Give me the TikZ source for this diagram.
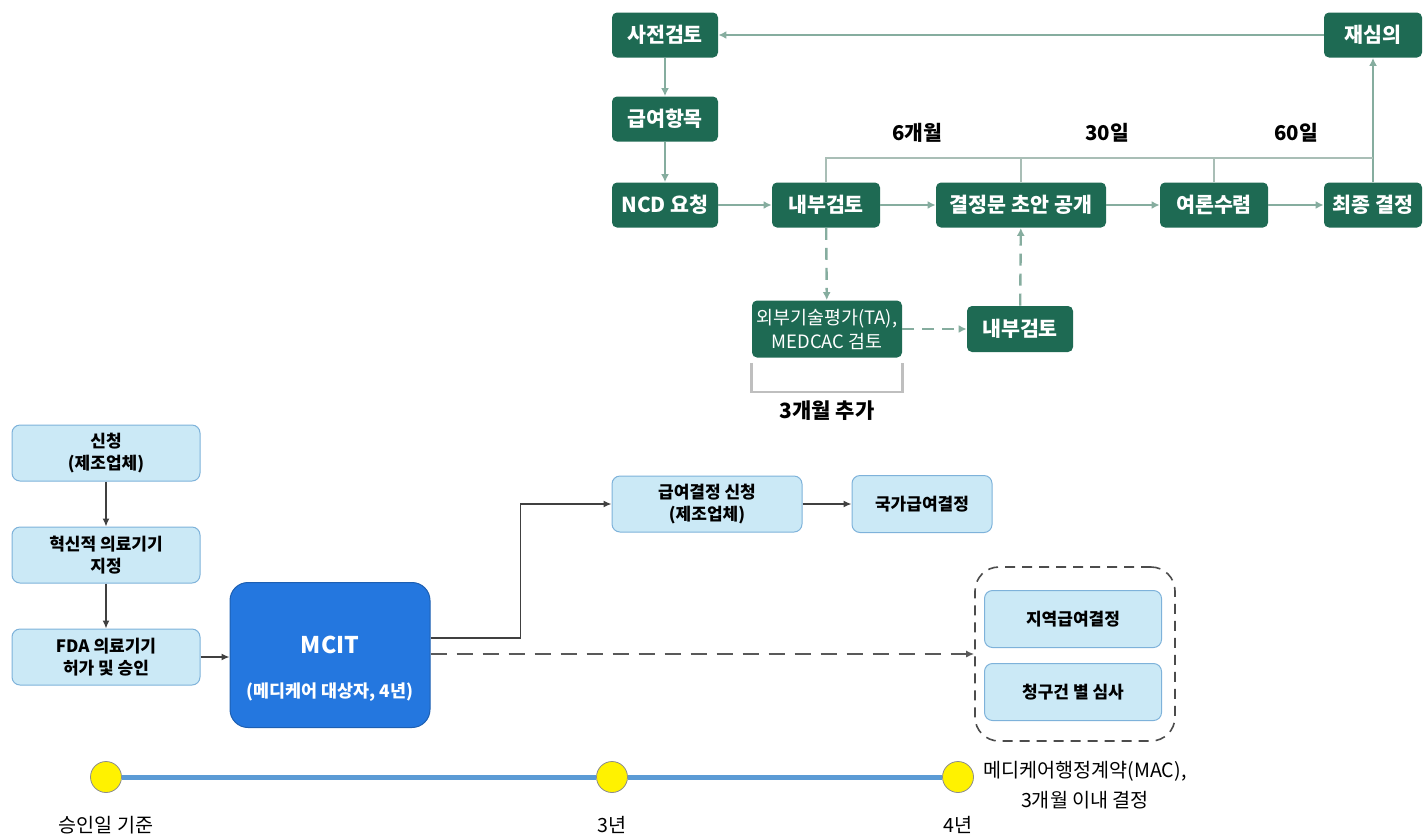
\documentclass[tikz,border=0pt]{standalone}
\usepackage{fontspec}
\setmainfont{Noto Sans CJK KR}
\usetikzlibrary{arrows.meta,calc}
\definecolor{ncdgreen}{HTML}{1E6A53}
\definecolor{ncdarrow}{HTML}{86AD9F}
\definecolor{ncdline}{HTML}{A9BEB6}
\definecolor{lightfill}{HTML}{CBE9F6}
\definecolor{lightdraw}{HTML}{7EB2DA}
\definecolor{mcitblue}{HTML}{2477DF}
\definecolor{timeblue}{HTML}{5B9BD5}
\tikzset{
	gbox/.style={fill=ncdgreen, rounded corners=2.5pt, text=white, inner sep=0pt, align=center,
		font=\bfseries\fontsize{10.3}{12}\selectfont, minimum height=22.5pt},
	lbox/.style={fill=lightfill, draw=lightdraw, line width=0.5pt, rounded corners=4pt, inner sep=0pt,
		align=center, font=\bfseries\fontsize{8.5}{11}\selectfont, minimum width=94pt, minimum height=28pt},
	flow/.style={draw=ncdarrow, line width=1.2pt, -{Latex[length=4pt,width=4pt]}},
	blk/.style={draw=black!75, line width=0.7pt, -{Latex[length=4pt,width=3.5pt]}},
	dot/.style={circle, fill=yellow, draw=black!45, line width=0.4pt, minimum size=15.5pt, inner sep=0pt},
	lbl/.style={font=\fontsize{9.8}{15}\selectfont, align=center},
	span/.style={font=\bfseries\fontsize{10.2}{12}\selectfont}
}
\begin{document}
\begin{tikzpicture}[x=0.5pt, y=-0.5pt]
			%%%%% START %%%%%
			\useasboundingbox (0,0) rectangle (1428,836);
			
			% NCD process
			\node[gbox, minimum width=53pt] (pre) at (665,35) {사전검토};
			\node[gbox, minimum width=49pt] (recon) at (1373,35) {재심의};
			\node[gbox, minimum width=53pt] (item) at (665,119) {급여항목};
			\node[gbox, minimum width=53pt] (ncd) at (665,205) {NCD 요청};
			\node[gbox, minimum width=54pt] (rev1) at (826,205) {내부검토};
			\node[gbox, minimum width=85pt] (draft) at (1021,205) {결정문 초안 공개};
			\node[gbox, minimum width=54pt] (opin) at (1214,205) {여론수렴};
			\node[gbox, minimum width=49pt] (final) at (1373,205) {최종 결정};
			\node[gbox, minimum width=75pt, minimum height=28.5pt, font=\fontsize{9.2}{12}\selectfont] (ta) at (827,329) {외부기술평가(TA),\\MEDCAC 검토};
			\node[gbox, minimum width=53pt, minimum height=23pt] (rev2) at (1020,329) {내부검토};
			
			\draw[flow] (recon) -- (pre);
			\draw[flow] (pre) -- (item);
			\draw[flow] (item) -- (ncd);
			\draw[flow] (ncd) -- (rev1);
			\draw[flow] (rev1) -- (draft);
			\draw[flow] (draft) -- (opin);
			\draw[flow] (opin) -- (final);
			\draw[flow] (final) -- (recon);
			\draw[flow, dash pattern=on 6pt off 4pt] (rev1) -- (ta);
			\draw[flow, dash pattern=on 6pt off 4pt] (ta) -- (rev2);
			\draw[flow, dash pattern=on 6pt off 4pt] (rev2) -- (draft);
			
			% period line
			\coordinate (top) at (0,158);
			\draw[draw=ncdline, line width=1.2pt] (rev1.north) -- (rev1.north |- top) -- (final.north |- top);
			\draw[draw=ncdline, line width=1.2pt] (draft.north) -- (draft.north |- top);
			\draw[draw=ncdline, line width=1.2pt] (opin.north) -- (opin.north |- top);
			\node[span] (sixm) at (917,133) {6개월};
			\node[span] (thirty) at (1107,133) {30일};
			\node[span] (sixty) at (1296,133) {60일};
			
			\draw[draw=black!25, line width=1.2pt] ($(ta.south west)+(0,5)$) -- ++(0,29) -| ($(ta.south east)+(0,5)$);
			\node[span, font=\bfseries\fontsize{10.5}{12}\selectfont] (extra) at (827,411) {3개월 추가};
			
			% MCIT path
			\node[lbox] (app) at (106,453) {신청\\(제조업체)};
			\node[lbox] (desig) at (106,555) {혁신적 의료기기\\지정};
			\node[lbox] (fda) at (106,657) {FDA 의료기기\\허가 및 승인};
			\node[fill=mcitblue, draw=mcitblue!80!black, line width=0.5pt, rounded corners=9pt, minimum width=100pt, minimum height=72.5pt] (mcit) at (330,655) {};
			\node[text=white, font=\bfseries\fontsize{11.5}{13}\selectfont] (mcitname) at (330,645) {MCIT};
			\node[text=white, font=\bfseries\fontsize{8.7}{10}\selectfont] (mcitsub) at (330,692) {(메디케어 대상자, 4년)};
			\node[lbox, minimum width=95pt] (req) at (707,504) {급여결정 신청\\(제조업체)};
			\node[lbox, minimum width=70pt, minimum height=28.5pt] (natdec) at (922,504) {국가급여결정};
			\node[draw=black!70, line width=0.8pt, dash pattern=on 5pt off 3.5pt, rounded corners=12pt, minimum width=100pt, minimum height=87pt] (grp) at (1075,654) {};
			\node[lbox, minimum width=88.5pt, minimum height=28.5pt] (local) at (1073,619) {지역급여결정};
			\node[lbox, minimum width=88.5pt, minimum height=28.5pt] (claim) at (1073,692) {청구건 별 심사};
			
			\draw[blk] (app) -- (desig);
			\draw[blk] (desig) -- (fda);
			\draw[blk] (fda.east) -- (mcit.west |- fda.east);
			\coordinate (exit) at (0,638);
			\draw[blk] (mcit.east |- exit) -- ++(90,0) |- (req.west);
			\draw[blk] (req) -- (natdec);
			\draw[blk, draw=black!65, line width=1pt, dash pattern=on 8pt off 5pt] (mcit.east |- grp.west) -- (grp.west);
			
			% timeline
			\node[dot] (t0) at (106,777) {};
			\node[dot] (t3) at (612,777) {};
			\node[dot] (t4) at (958,777) {};
			\draw[draw=timeblue, line width=2.5pt] (t0) -- (t3) -- (t4);
			\node[lbl] (l0) at (106,825) {승인일 기준};
			\node[lbl] (l3) at (612,825) {3년};
			\node[lbl] (l4) at (958,825) {4년};
			\node[lbl] (mac) at (1085,785) {메디케어행정계약(MAC),\\3개월 이내 결정};
			
			%%%%% END %%%%%
\end{tikzpicture}
\end{document}
